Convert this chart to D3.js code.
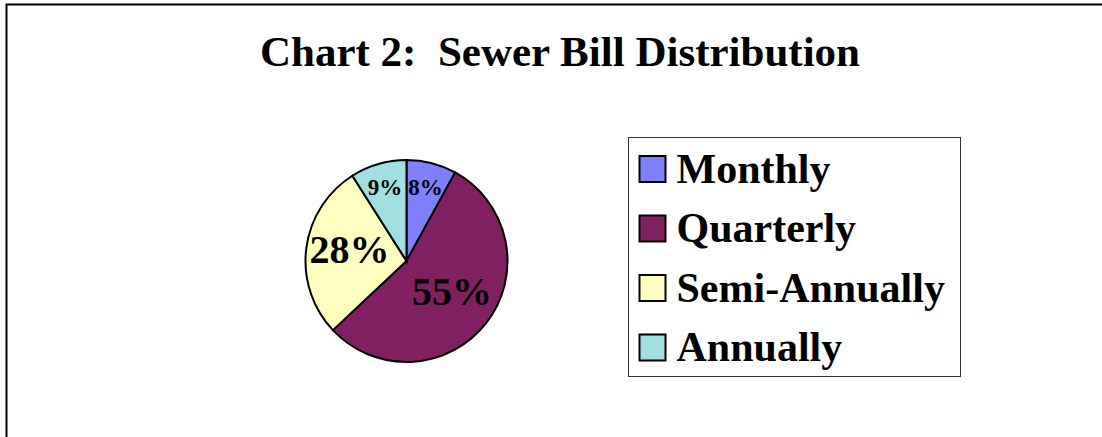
<!DOCTYPE html>
<html>
<head>
<meta charset="utf-8">
<script src="https://cdn.jsdelivr.net/npm/d3@7"></script>
<style>
  body { margin: 0; background: #fff; }
  text { font-family: "Liberation Serif", "Times New Roman", serif; font-weight: bold; }
</style>
</head>
<body>
<svg id="chart" width="1102" height="437"></svg>
<script>
// chart values
const categories = ["Monthly", "Quarterly", "Semi-Annually", "Annually"];
const shares = [8, 55, 28, 9];
const colors = ["#8080FF", "#802060", "#FFFFC0", "#A0E0E0"];
const title = "Chart 2:  Sewer Bill Distribution";

let svg = d3.select("#chart");

// outer frame (runs off the right and bottom of the picture)
svg.append("rect")
    .attr("x", 6.5).attr("y", 4.5)
    .attr("width", 1200).attr("height", 600)
    .attr("fill", "none")
    .attr("stroke", "#000")
    .attr("stroke-width", 2);

svg.append("text")
    .attr("x", 560).attr("y", 66)
    .attr("text-anchor", "middle")
    .style("font-size", "43px")
    .style("white-space", "pre")
    .text(title);

// pie
let cx = 406.5, cy = 261, radius = 101;
let pie = d3.pie().sort(null).value(d => d.v);
let arc = d3.arc().innerRadius(0).outerRadius(radius);
let rows = categories.map((c, i) => ({ name: c, v: shares[i], color: colors[i] }));
let slices = pie(rows);

let g = svg.append("g").attr("transform", "translate(" + cx + "," + cy + ")");

g.selectAll("path")
    .data(slices)
    .enter().append("path")
    .attr("d", arc)
    .attr("fill", d => d.data.color)
    .attr("stroke", "#000")
    .attr("stroke-width", 2);

// small slices get their label further out, like Excel did
g.selectAll(".lbl")
    .data(slices)
    .enter().append("text")
    .attr("class", "lbl")
    .attr("transform", d => {
        let r = d.data.v < 10 ? radius * 0.76 : radius * 0.57;
        let a = (d.startAngle + d.endAngle) / 2;
        return "translate(" + (Math.sin(a) * r) + "," + (-Math.cos(a) * r) + ")";
    })
    .attr("text-anchor", "middle")
    .attr("dy", d => d.data.v < 10 ? "0.35em" : "0.22em")
    .style("font-size", d => d.data.v < 10 ? "23px" : "40px")
    .text(d => d.data.v + "%");

// legend
let legend = svg.append("g").attr("transform", "translate(628.5,137.5)");
legend.append("rect")
    .attr("width", 332).attr("height", 239)
    .attr("fill", "#fff")
    .attr("stroke", "#333")
    .attr("stroke-width", 1);

let y = d3.scalePoint().domain(categories).range([31.5, 210]);

let items = legend.selectAll(".item")
    .data(rows)
    .enter().append("g")
    .attr("class", "item")
    .attr("transform", d => "translate(0," + y(d.name) + ")");

items.append("rect")
    .attr("x", 11).attr("y", -13)
    .attr("width", 26).attr("height", 26)
    .attr("fill", d => d.color)
    .attr("stroke", "#000")
    .attr("stroke-width", 2);

items.append("text")
    .attr("x", 48)
    .attr("dy", "0.33em")
    .style("font-size", "42px")
    .text(d => d.name);
</script>
</body>
</html>
